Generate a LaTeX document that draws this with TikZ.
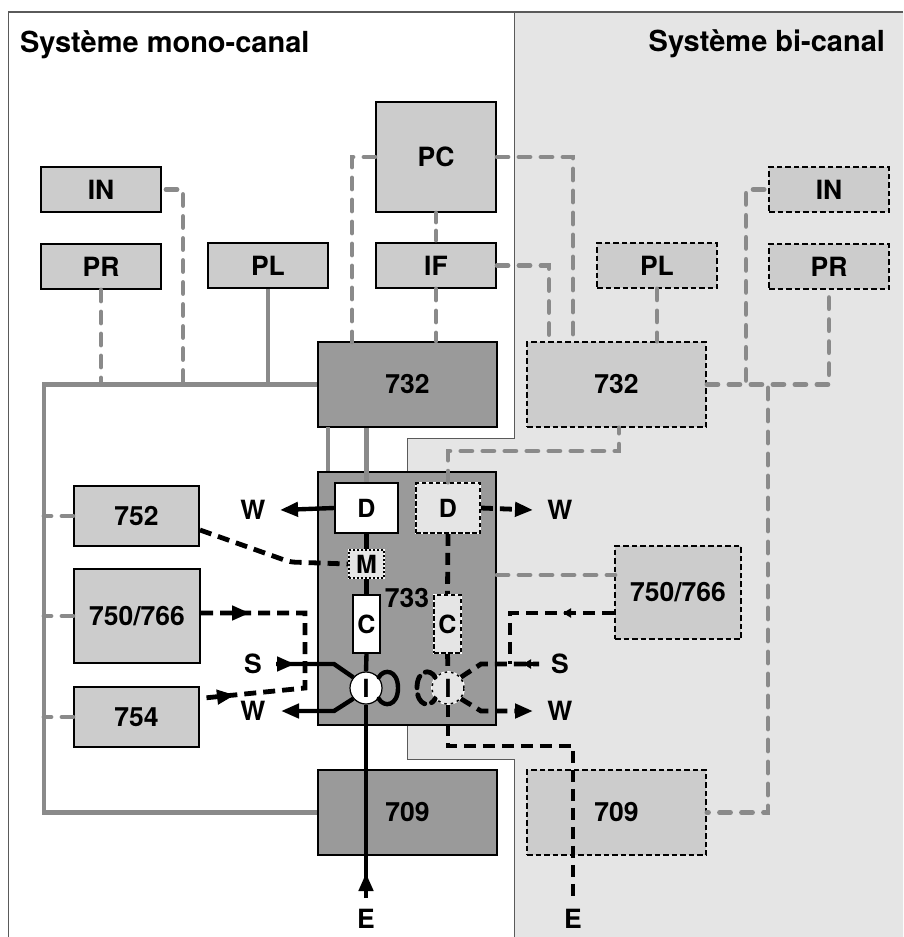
\documentclass[tikz,border=0pt]{standalone}
\usepackage{fontspec}
\setmainfont{TeX Gyre Heros}
\usetikzlibrary{arrows.meta}
\definecolor{bgc}{HTML}{E5E5E5}
\definecolor{lgc}{HTML}{CCCCCC}
\definecolor{dgc}{HTML}{9A9A9A}
\definecolor{lnc}{HTML}{8A8A8A}
\definecolor{frc}{HTML}{5A5A5A}
\tikzset{
  lab/.style={font=\fontsize{26.5}{26.5}\selectfont\bfseries,inner sep=0pt,outer sep=0pt},
  base/.style={rectangle,draw=black,line width=2pt,inner sep=0pt,font=\fontsize{26.5}{26.5}\selectfont\bfseries},
  lbox/.style={base,fill=lgc},
  dbox/.style={base,fill=dgc},
  dashbox/.style={base,fill=lgc,line width=1.8pt,dash pattern=on 5.5pt off 3pt},
  wbox/.style={base,fill=white,font=\fontsize{25}{25}\selectfont\bfseries},
  wdash/.style={base,fill=bgc,font=\fontsize{25}{25}\selectfont\bfseries,line width=1.7pt,dash pattern=on 4.5pt off 2.5pt,preaction={draw=white,solid,line width=1.7pt}},
  gs/.style={draw=lnc,line width=4.2pt},
  gd/.style={draw=lnc,line width=4.8pt,line cap=round,dash pattern=on 11pt off 11pt},
  bs/.style={draw=black,line width=4.4pt},
  bd/.style={draw=black,line width=4.8pt,dash pattern=on 12pt off 7pt},
  tipb/.style={draw=black,line width=4.4pt,-{Triangle[length=18pt,width=14pt]}},
  tips/.style={draw=black,line width=4.4pt,-{Triangle[length=8pt,width=9pt]}},
}
\begin{document}
\begin{tikzpicture}[x=1pt,y=-1pt]
\useasboundingbox (0,0) rectangle (903,937);
% background regions
\fill[bgc] (514,12) -- (903,12) -- (903,937) -- (514,937) -- (514,759) -- (407,759) -- (407,438) -- (514,438) -- cycle;
\draw[frc,line width=1pt] (514,12) -- (514,438) -- (407,438) -- (407,472);
\draw[frc,line width=1pt] (407,725) -- (407,759) -- (514,759) -- (514,937);
\draw[frc,line width=1pt] (8,937) -- (8,12);
\draw[frc,line width=1.8pt] (8,12) -- (903,12);
% titles
\node[lab,anchor=base west,font=\fontsize{29}{29}\selectfont\bfseries] (t1) at (20,52) {Système mono-canal};
\node[lab,anchor=base east,font=\fontsize{29}{29}\selectfont\bfseries] (t2) at (885,51) {Système bi-canal};
% left boxes
\node[lbox,minimum width=120pt,minimum height=45pt] (inL) at (101,189.5) {IN};
\node[lbox,minimum width=120pt,minimum height=45pt] (prL) at (101,266.5) {PR};
\node[lbox,minimum width=120pt,minimum height=45pt] (plL) at (268,265.5) {PL};
\node[lbox,minimum width=120pt,minimum height=110pt] (pc) at (436,157) {PC};
\node[lbox,minimum width=120pt,minimum height=45pt] (ifb) at (436,265.5) {IF};
\node[dbox,minimum width=179pt,minimum height=85pt] (a732) at (407.5,384.5) {732};
\node[dbox,minimum width=179pt,minimum height=85pt] (a709) at (407.5,812.5) {709};
\node[dbox,minimum width=178pt,minimum height=253pt] (m733) at (407,598.5) {};
\node[lab] (l733) at (407,598) {733};
\node[lbox,minimum width=125pt,minimum height=60pt] (b752) at (136.5,516) {752};
\node[lbox,minimum width=126pt,minimum height=94pt] (b750) at (137,616) {750/766};
\node[lbox,minimum width=125pt,minimum height=60pt] (b754) at (136.5,717) {754};
% right boxes
\node[dashbox,minimum width=120pt,minimum height=45pt] (inR) at (829,189.5) {IN};
\node[dashbox,minimum width=120pt,minimum height=45pt] (prR) at (829,266.5) {PR};
\node[dashbox,minimum width=120pt,minimum height=45pt] (plR) at (657,265.5) {PL};
\node[dashbox,minimum width=179pt,minimum height=85pt] (b732) at (616.5,384.5) {732};
\node[dashbox,minimum width=179pt,minimum height=85pt] (b709) at (616.5,812.5) {709};
\node[dashbox,minimum width=126pt,minimum height=93pt] (c750) at (678,592.5) {750/766};
% coordinates
\coordinate (busL) at (44,600);
\coordinate (jin) at (183,385);
\coordinate (jpc) at (352,342);
\coordinate (jifR) at (549,342);
\coordinate (jpcR) at (573,342);
\coordinate (jinR) at (746,385);
\coordinate (jbus) at (768,388);
\coordinate (g328) at (328,427);
\coordinate (kR) at (619,451);
\coordinate (g75) at (615,575);
% gray connectors
\draw[gs] (a732.west) -| (busL) |- (a709.west);
\draw[gd] (prL.south) -- (prL.south |- a732.west);
\draw[gd] ([xshift=4pt]inL.east) -| (jin);
\draw[gs] (plL.south) -- (plL.south |- a732.west);
\draw[gd] (pc.west) -| (jpc);
\draw[gd,dash pattern=on 9pt off 9pt] (pc.south) -- (ifb.north);
\draw[gd] (ifb.south) -- (ifb.south |- a732.north);
\draw[gd] (pc.east) -| (jpcR);
\draw[gd] (ifb.east) -| (jifR);
\draw[gd] (plR.south) -- (plR.south |- b732.north);
\draw[gd] (b732.east) -| (prR.south);
\draw[gd] ([xshift=-4pt]inR.west) -| (jinR);
\draw[gd] (jbus) |- (b709.east);
\draw[gd] (m733.east |- g75) -- (g75);
\draw[gd] (b752.west) -- (busL |- b752.west);
\draw[gd] (b750.west) -- (busL |- b750.west);
\draw[gd] (b754.west) -- (busL |- b754.west);
% inner 733 nodes
\node[wbox,minimum width=63pt,minimum height=50pt] (dL) at (366.5,508) {D};
\node[wdash,minimum width=64pt,minimum height=50pt] (dR) at (448,508) {D};
\node[wdash,minimum width=35pt,minimum height=28pt,dash pattern=on 2pt off 2pt] (mm) at (366.5,564) {M};
\node[wbox,minimum width=27pt,minimum height=58pt] (cL) at (366.5,624) {C};
\node[wdash,minimum width=27pt,minimum height=58pt] (cR) at (447.5,624) {C};
\node[circle,draw=black,fill=white,line width=1.2pt,inner sep=0pt,minimum size=32pt,font=\fontsize{25}{25}\selectfont\bfseries] (iL) at (366,688) {I};
\node[circle,fill=bgc,draw=black,line width=1.5pt,dash pattern=on 2.5pt off 4pt,preaction={draw=white,solid,line width=1.8pt},inner sep=0pt,minimum size=32pt,font=\fontsize{25}{25}\selectfont\bfseries] (iR) at (448,688) {I};
% gray connectors into inner nodes and 733
\draw[gs] (g328) -- (g328 |- m733.north);
\draw[gs] (dL.north) -- (dL.north |- a732.south);
\draw[gd] (dR.north) |- (kR) -- (kR |- b732.south);
% terminal labels
\node[lab] (wa) at (253,510) {W};
\node[lab] (sa) at (253,664) {S};
\node[lab] (wb) at (253,711) {W};
\node[lab] (wc) at (560,510) {W};
\node[lab] (sb) at (560,664) {S};
\node[lab] (wd) at (560,711) {W};
\node[lab] (ea) at (366,919) {E};
\node[lab] (eb) at (573,919) {E};
% terminal coordinates
\coordinate (wat) at (280,510);
\coordinate (wbt) at (281,711);
\coordinate (sat) at (276,664);
\coordinate (sah) at (295,664);
\coordinate (wct) at (533,510);
\coordinate (wdt) at (533,711);
\coordinate (sbt) at (539,664);
\coordinate (eat) at (366,898);
\coordinate (eah) at (366,873);
\coordinate (ebt) at (573,898);
% black solid
\draw[tipb] (dL.west) -- (wat);
\draw[bs] (dL.south) -- (mm.north);
\draw[bs] (mm.south) -- (cL.north);
\draw[bs] (cL.south) -- (iL.north);
\draw[bs] (iL.south) -- (eat);
\draw[tipb] (eat) -- (eah);
\draw[bs] (sat) -- (334,664) -- (iL.140);
\draw[tipb] (sat) -- (sah);
\draw[tipb] (iL.220) -- (334,711) -- (wbt);
\draw[bs,line cap=round] (iL.40) .. controls (384,668) and (398,670) .. (398,688) .. controls (398,706) and (384,708) .. (iL.-40);
% black dashed
\draw[bd,-{Triangle[length=18pt,width=14pt]}] (dR.east) -- (wct);
\draw[bd] (dR.south) -- (cR.north);
\draw[bd] (cR.south) -- (iR.north);
\draw[bd] (iR.south) |- (ebt |- 0,746) -- (ebt);
\draw[bd,-{Triangle[length=18pt,width=14pt]}] (iR.-40) -- (481,711) -- (wdt);
\draw[bd] (iR.40) -- (481,664) -- (sbt);
\draw[tips] (sbt) -- (523,664);
\draw[bd,line cap=round] (iR.140) .. controls (430,668) and (417,670) .. (417,688) .. controls (417,706) and (430,708) .. (iR.220);
\draw[bd] (c750.west |- 0,613) -- (510,613) -- (510,664);
\draw[tips] (575,613) -- (563,613);
\draw[bd,rounded corners=5pt] (b752.east |- 0,530) -- (290,562) -- (mm.west);
\draw[bd] (b750.east |- 0,613) -- (305,613) -- (305,688) -- (204,698);
\draw[tipb] (232,613) -- (250,613);
\draw[tipb] (218,697) -- (235,695);
\end{tikzpicture}
\end{document}
